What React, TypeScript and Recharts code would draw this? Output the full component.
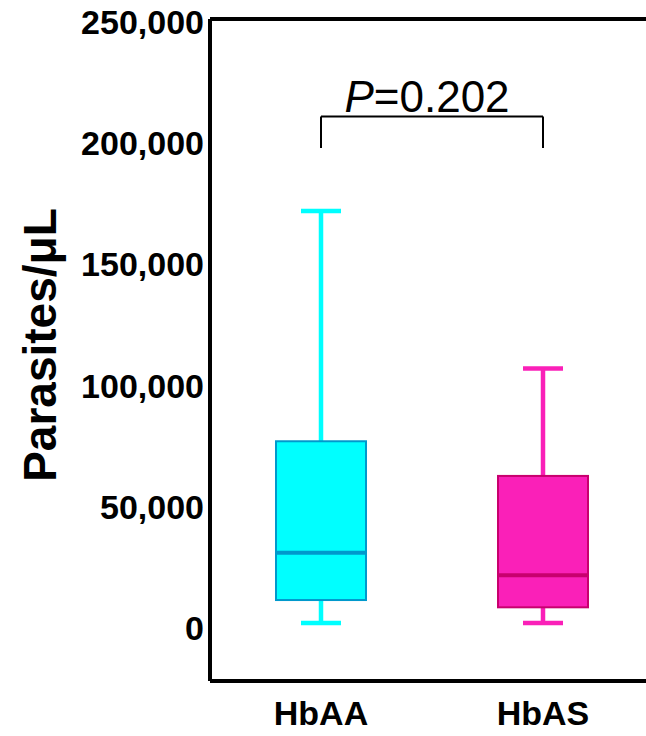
import { Bar, ComposedChart, ReferenceLine, XAxis, YAxis } from "recharts";

const groups = ["HbAA", "HbAS"];
const lowWhisker = [2000, 2000];
const q1 = [11500, 8500];
const median = [31000, 21700];
const q3 = [77000, 62700];
const highWhisker = [172000, 107000];
const fills = ["#00FFFF", "#FA20B8"];
const edges = ["#0099CC", "#C8006E"];
const yTicks = [0, 50000, 100000, 150000, 200000, 250000];
const yDomain = [-21900, 251200];
const bracketFoot = 198000;
const bracketTop = 211000;
const pValue = "0.202";

const font = "'Liberation Sans', Arial, Helvetica, sans-serif";

const data = groups.map((group, i) => ({
  group,
  range: [lowWhisker[i], highWhisker[i]],
  q1: q1[i],
  median: median[i],
  q3: q3[i],
  fill: fills[i],
  edge: edges[i],
}));

function BoxShape(props: any) {
  const { x, y, width, height, payload } = props;
  const top = Math.min(y, y + height);
  const h = Math.abs(height);
  const [lo, hi] = payload.range;
  const px = (v: number) => top + ((hi - v) / (hi - lo)) * h;
  const cx = x + width / 2;
  const cap = 20;
  return (
    <g>
      <line x1={cx} x2={cx} y1={px(hi)} y2={px(payload.q3)} stroke={payload.fill} strokeWidth={4.5} />
      <line x1={cx} x2={cx} y1={px(payload.q1)} y2={px(lo)} stroke={payload.fill} strokeWidth={4.5} />
      <line x1={cx - cap} x2={cx + cap} y1={px(hi)} y2={px(hi)} stroke={payload.fill} strokeWidth={4.5} />
      <line x1={cx - cap} x2={cx + cap} y1={px(lo)} y2={px(lo)} stroke={payload.fill} strokeWidth={4.5} />
      <rect
        x={x}
        y={px(payload.q3)}
        width={width}
        height={px(payload.q1) - px(payload.q3)}
        fill={payload.fill}
        stroke={payload.edge}
        strokeWidth={2}
      />
      <line x1={x + 1} x2={x + width - 1} y1={px(payload.median)} y2={px(payload.median)} stroke={payload.edge} strokeWidth={4} />
    </g>
  );
}

function PLabel(props: any) {
  const { viewBox } = props;
  const cx = viewBox.x + viewBox.width / 2;
  return (
    <text x={cx - 5} y={viewBox.y - 4} textAnchor="middle" fontSize={44} fontFamily={font} fill="#000">
      <tspan fontStyle="italic">P</tspan>
      <tspan>={pValue}</tspan>
    </text>
  );
}

function YTitle() {
  return (
    <text
      x={40}
      y={345}
      transform="rotate(-90, 40, 345)"
      textAnchor="middle"
      dominantBaseline="central"
      fontSize={46}
      fontWeight={700}
      fontFamily={font}
      fill="#000"
    >
      Parasites/μL
    </text>
  );
}

export default function App() {
  const tickStyle = { fill: "#000", fontSize: 34, fontWeight: 700, fontFamily: font };
  return (
    <div style={{ position: "absolute", left: 0, top: 0, width: 646, height: 736, overflow: "hidden", background: "#fff" }}>
      <ComposedChart width={660} height={736} data={data} margin={{ top: 19, right: 6, bottom: 0, left: 0 }}>
        <XAxis
          dataKey="group"
          height={55}
          tickSize={0}
          tickMargin={20}
          tick={tickStyle}
          axisLine={{ stroke: "#000", strokeWidth: 4 }}
        />
        <YAxis
          width={210}
          type="number"
          domain={yDomain}
          ticks={yTicks}
          allowDataOverflow
          tickSize={0}
          tickMargin={6}
          tick={tickStyle}
          tickFormatter={(v: number) => v.toLocaleString("en-US")}
          axisLine={{ stroke: "#000", strokeWidth: 4 }}
          label={<YTitle />}
        />
        <ReferenceLine y={yDomain[1]} stroke="#000" strokeWidth={4} />
        <Bar dataKey="range" barSize={90} shape={<BoxShape />} isAnimationActive={false} />
        <ReferenceLine
          segment={[{ x: groups[0], y: bracketTop }, { x: groups[1], y: bracketTop }]}
          stroke="#000"
          strokeWidth={2}
          label={<PLabel />}
        />
        <ReferenceLine segment={[{ x: groups[0], y: bracketFoot }, { x: groups[0], y: bracketTop }]} stroke="#000" strokeWidth={2} />
        <ReferenceLine segment={[{ x: groups[1], y: bracketFoot }, { x: groups[1], y: bracketTop }]} stroke="#000" strokeWidth={2} />
      </ComposedChart>
    </div>
  );
}
